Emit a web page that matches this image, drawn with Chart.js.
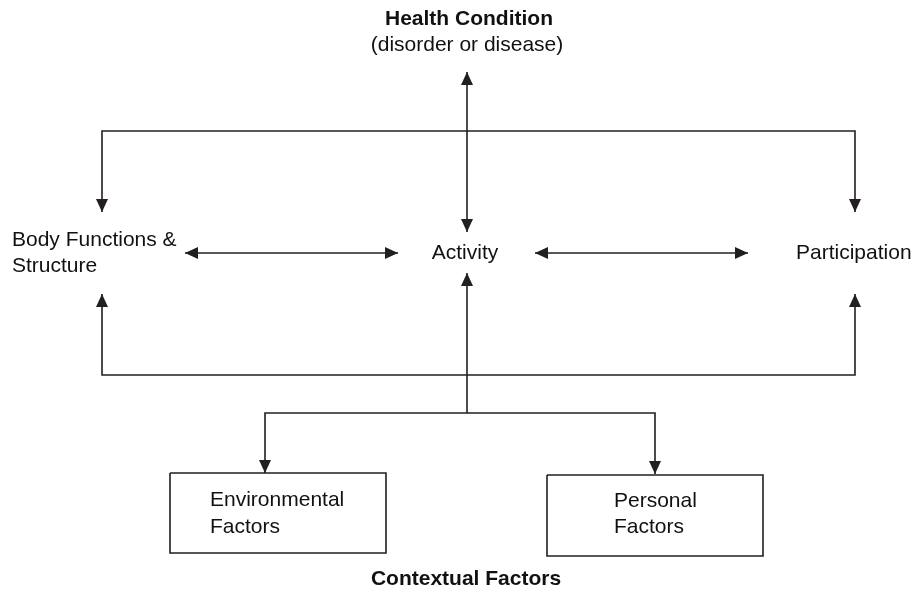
<!DOCTYPE html>
<html>
<head>
<meta charset="utf-8">
<script src="https://cdn.jsdelivr.net/npm/chart.js@4/dist/chart.umd.min.js"></script>
<style>
  html, body { margin: 0; padding: 0; background: #fff; }
  #wrap { width: 914px; height: 610px; position: relative; }
</style>
</head>
<body>
<div id="wrap"><canvas id="diagram"></canvas></div>
<script>
// connectors: each one is a path of [x, y] points, heads = which ends get an arrowhead
const hcLink = [[467, 232], [467, 72]];
const topBracket = [[102, 212], [102, 131], [855, 131], [855, 212]];
const bodyActivity = [[185, 253], [398, 253]];
const activityPart = [[535, 253], [748, 253]];
const bottomBracket = [[102, 294], [102, 375], [855, 375], [855, 294]];
const contextUp = [[467, 413], [467, 273]];
const contextSplit = [[265, 473], [265, 413], [655, 413], [655, 474]];
const envBox = [[170, 473], [386, 473], [386, 553], [170, 553], [170, 473]];
const persBox = [[547, 475], [763, 475], [763, 556], [547, 556], [547, 475]];

const connectors = [
  { path: hcLink, heads: 'both' },
  { path: topBracket, heads: 'both' },
  { path: bodyActivity, heads: 'both' },
  { path: activityPart, heads: 'both' },
  { path: bottomBracket, heads: 'both' },
  { path: contextUp, heads: 'end' },
  { path: contextSplit, heads: 'both' },
  { path: envBox, heads: 'none' },
  { path: persBox, heads: 'none' }
];

// labels: text, anchor point, alignment, bold
const labelText = ['Health Condition', '(disorder or disease)', 'Body Functions &', 'Structure',
  'Activity', 'Participation', 'Environmental', 'Factors', 'Personal', 'Factors', 'Contextual Factors'];
const labelPos = [[469, 19], [467, 45], [12, 240], [12, 266], [465, 253], [796, 253],
  [210, 500], [210, 527], [614, 501], [614, 527], [466, 579]];
const labelAlign = ['center', 'center', 'left', 'left', 'center', 'left', 'left', 'left', 'left', 'left', 'center'];
const labelBold = [true, false, false, false, false, false, false, false, false, false, true];

const ink = '#231f20';

const datasets = connectors.map(c => ({
  data: c.path.map(p => ({ x: p[0], y: p[1] })),
  showLine: true,
  borderColor: ink,
  borderWidth: 1.6,
  pointRadius: 0,
  tension: 0,
  heads: c.heads
}));

function drawHead(ctx, from, to) {
  const ang = Math.atan2(to.y - from.y, to.x - from.x);
  const len = 13, half = 6;
  ctx.save();
  ctx.translate(to.x, to.y);
  ctx.rotate(ang);
  ctx.beginPath();
  ctx.moveTo(0, 0);
  ctx.lineTo(-len, -half);
  ctx.lineTo(-len, half);
  ctx.closePath();
  ctx.fillStyle = ink;
  ctx.fill();
  ctx.restore();
}

const diagramPlugin = {
  id: 'diagram',
  afterDatasetsDraw(chart) {
    const ctx = chart.ctx;
    const xs = chart.scales.x, ys = chart.scales.y;
    const px = p => ({ x: xs.getPixelForValue(p.x), y: ys.getPixelForValue(p.y) });

    chart.data.datasets.forEach(ds => {
      const pts = ds.data.map(px);
      const n = pts.length;
      if (ds.heads === 'both' || ds.heads === 'start') drawHead(ctx, pts[1], pts[0]);
      if (ds.heads === 'both' || ds.heads === 'end') drawHead(ctx, pts[n - 2], pts[n - 1]);
    });

    ctx.save();
    ctx.fillStyle = '#111';
    ctx.textBaseline = 'middle';
    labelText.forEach((t, i) => {
      const p = px({ x: labelPos[i][0], y: labelPos[i][1] });
      ctx.font = (labelBold[i] ? 'bold ' : '') + '21px "Liberation Sans", Arial, sans-serif';
      ctx.textAlign = labelAlign[i];
      ctx.fillText(t, p.x, p.y);
    });
    ctx.restore();
  }
};

new Chart(document.getElementById('diagram'), {
  type: 'scatter',
  data: { datasets },
  options: {
    responsive: true,
    maintainAspectRatio: false,
    animation: false,
    layout: { padding: 0 },
    plugins: { legend: { display: false }, tooltip: { enabled: false } },
    scales: {
      x: { type: 'linear', min: 0, max: 914, display: false },
      y: { type: 'linear', min: 0, max: 610, reverse: true, display: false }
    }
  },
  plugins: [diagramPlugin]
});
</script>
</body>
</html>
